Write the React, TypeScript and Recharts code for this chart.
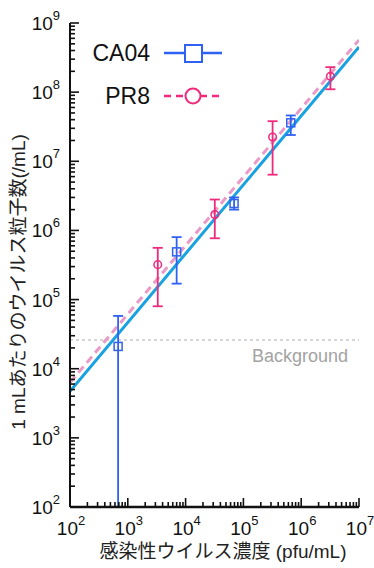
import {
  ComposedChart,
  ErrorBar,
  Label,
  Legend,
  Line,
  ReferenceLine,
  Scatter,
  XAxis,
  YAxis
} from "recharts";

const ca04X = [680, 7000, 69000, 660000];
const ca04Y = [2.1e4, 4.9e5, 2.45e6, 3.6e7];
const ca04Low = [1e2, 1.7e5, 2.0e6, 2.4e7];
const ca04High = [5.8e4, 8.0e5, 3.0e6, 4.6e7];

const pr8X = [3300, 32000, 320000, 3.2e6];
const pr8Y = [3.2e5, 1.7e6, 2.25e7, 1.7e8];
const pr8Low = [8.0e4, 7.7e5, 6.4e6, 1.1e8];
const pr8High = [5.6e5, 2.8e6, 3.8e7, 2.3e8];

// fitted lines (end points at the x-axis limits)
const fitX = [1e2, 1e7];
const ca04Fit = [4.7e3, 4.5e8];
const pr8Fit = [6.3e3, 5.7e8];

const backgroundLevel = 2.6e4;

const xMajor = [1e2, 1e3, 1e4, 1e5, 1e6, 1e7];
const yMajor = [1e2, 1e3, 1e4, 1e5, 1e6, 1e7, 1e8, 1e9];
const minorSteps = [2, 3, 4, 5, 6, 7, 8, 9];

const withMinors = (majors: number[]) => {
  const out: number[] = [];
  majors.forEach((m, i) => {
    out.push(m);
    if (i < majors.length - 1) minorSteps.forEach((s) => out.push(m * s));
  });
  return out;
};
const xTicks = withMinors(xMajor);
const yTicks = withMinors(yMajor);

const FONT = "'Liberation Sans', Arial, 'Noto Sans CJK JP', sans-serif";
const BLUE = "#2f62f2";
const CYAN = "#1aa2e0";
const PINK = "#ef2a7c";
const PINK_FIT = "#e99ac6";

const ca04Data = ca04X.map((x, i) => ({ x, y: ca04Y[i], err: [ca04Y[i] - ca04Low[i], ca04High[i] - ca04Y[i]] }));
const pr8Data = pr8X.map((x, i) => ({ x, y: pr8Y[i], err: [pr8Y[i] - pr8Low[i], pr8High[i] - pr8Y[i]] }));
const ca04FitData = fitX.map((x, i) => ({ x, y: ca04Fit[i] }));
const pr8FitData = fitX.map((x, i) => ({ x, y: pr8Fit[i] }));

const isMajor = (v: number) => Math.abs(Math.log10(v) - Math.round(Math.log10(v))) < 1e-9;
const expOf = (v: number) => Math.round(Math.log10(v));
const tickLen = (v: number) => (isMajor(v) ? 9 : 5);

function BottomTick({ x, y, payload }: any) {
  const v = payload.value;
  return (
    <g>
      <line x1={x} y1={y} x2={x} y2={y - tickLen(v)} stroke="#111" strokeWidth={1.6} />
      {isMajor(v) && (
        <text x={x + 1} y={y + 28} textAnchor="middle" fill="#111" fontFamily={FONT}>
          <tspan fontSize={19}>10</tspan>
          <tspan fontSize={13} dy={-10}>{expOf(v)}</tspan>
        </text>
      )}
    </g>
  );
}

function TopTick({ x, y, payload }: any) {
  return <line x1={x} y1={y} x2={x} y2={y + tickLen(payload.value)} stroke="#111" strokeWidth={1.6} />;
}

function LeftTick({ x, y, payload }: any) {
  const v = payload.value;
  return (
    <g>
      <line x1={x} y1={y} x2={x + tickLen(v)} y2={y} stroke="#111" strokeWidth={1.6} />
      {isMajor(v) && (
        <text x={x - 10} y={y + 7} textAnchor="end" fill="#111" fontFamily={FONT}>
          <tspan fontSize={19}>10</tspan>
          <tspan fontSize={13} dy={-10}>{expOf(v)}</tspan>
        </text>
      )}
    </g>
  );
}

function RightTick({ x, y, payload }: any) {
  return <line x1={x} y1={y} x2={x - tickLen(payload.value)} y2={y} stroke="#111" strokeWidth={1.6} />;
}

function SquareDot({ cx, cy }: any) {
  return <rect x={cx - 4} y={cy - 4} width={8} height={8} fill="none" stroke={BLUE} strokeWidth={1.5} />;
}

function CircleDot({ cx, cy }: any) {
  return <circle cx={cx} cy={cy} r={3.8} fill="none" stroke={PINK} strokeWidth={1.5} />;
}

function LegendBox() {
  return (
    <svg width={240} height={120} style={{ display: "block" }}>
      <text x={150} y={61} textAnchor="end" fontSize={23} fill="#111" fontFamily={FONT}>CA04</text>
      <line x1={164} y1={53} x2={222} y2={53} stroke={BLUE} strokeWidth={2.5} />
      <rect x={185} y={45} width={17} height={17} fill="#fff" stroke={BLUE} strokeWidth={2} />
      <text x={150} y={104} textAnchor="end" fontSize={23} fill="#111" fontFamily={FONT}>PR8</text>
      <line x1={164} y1={96} x2={222} y2={96} stroke={PINK} strokeWidth={2.5} strokeDasharray="7 5" />
      <circle cx={193} cy={96} r={7.5} fill="#fff" stroke={PINK} strokeWidth={2} />
    </svg>
  );
}

export default function App() {
  return (
    <div style={{ position: "absolute", left: 0, top: 0 }}>
      <ComposedChart width={374} height={568} margin={{ top: 23, right: 15, bottom: 0, left: 0 }}>
        <XAxis
          dataKey="x"
          type="number"
          scale="log"
          domain={[1e2, 1e7]}
          ticks={xTicks}
          interval={0}
          allowDataOverflow
          height={61}
          tickSize={0}
          tickMargin={0}
          tick={<BottomTick />}
          axisLine={{ stroke: "#111", strokeWidth: 2 }}
        >
          <Label
            content={({ viewBox }: any) => (
              <text
                x={viewBox.x + 153}
                y={viewBox.y + 51}
                textAnchor="middle"
                fontSize={19}
                fill="#222"
                fontFamily={FONT}
              >
                感染性ウイルス濃度 (pfu/mL)
              </text>
            )}
          />
        </XAxis>
        <XAxis
          xAxisId="top"
          orientation="top"
          type="number"
          scale="log"
          domain={[1e2, 1e7]}
          ticks={xTicks}
          interval={0}
          allowDataOverflow
          height={0}
          tickSize={0}
          tickMargin={0}
          tick={<TopTick />}
          axisLine={{ stroke: "#111", strokeWidth: 2 }}
        />
        <YAxis
          dataKey="y"
          type="number"
          scale="log"
          domain={[1e2, 1e9]}
          ticks={yTicks}
          interval={0}
          allowDataOverflow
          width={70}
          tickSize={0}
          tickMargin={0}
          tick={<LeftTick />}
          axisLine={{ stroke: "#111", strokeWidth: 2 }}
        >
          <Label
            content={({ viewBox }: any) => {
              const cx = viewBox.x + 18;
              const cy = viewBox.y + viewBox.height / 2 + 17;
              return (
                <text
                  x={cx}
                  y={cy}
                  transform={`rotate(-90, ${cx}, ${cy})`}
                  textAnchor="middle"
                  dominantBaseline="central"
                  fontSize={19}
                  fill="#222"
                  fontFamily={FONT}
                >
                  1 mLあたりのウイルス粒子数(/mL)
                </text>
              );
            }}
          />
        </YAxis>
        <YAxis
          yAxisId="right"
          orientation="right"
          type="number"
          scale="log"
          domain={[1e2, 1e9]}
          ticks={yTicks}
          interval={0}
          allowDataOverflow
          width={0}
          tickSize={0}
          tickMargin={0}
          tick={<RightTick />}
          axisLine={{ stroke: "#111", strokeWidth: 2 }}
        />
        <ReferenceLine y={backgroundLevel} stroke="#c8c8c8" strokeWidth={1.5} strokeDasharray="3 3">
          <Label
            content={({ viewBox }: any) => (
              <text
                x={viewBox.x + viewBox.width - 11}
                y={viewBox.y + 22}
                textAnchor="end"
                fontSize={18}
                fill="#a3a3a3"
                fontFamily={FONT}
              >
                Background
              </text>
            )}
          />
        </ReferenceLine>
        <Line
          data={pr8FitData}
          dataKey="y"
          stroke={PINK_FIT}
          strokeWidth={3}
          strokeDasharray="8 5"
          dot={false}
          isAnimationActive={false}
        />
        <Line data={ca04FitData} dataKey="y" stroke={CYAN} strokeWidth={3} dot={false} isAnimationActive={false} />
        <Scatter data={ca04Data} dataKey="y" shape={<SquareDot />} isAnimationActive={false}>
          <ErrorBar dataKey="err" direction="y" width={5} stroke={BLUE} strokeWidth={1.8} isAnimationActive={false} />
        </Scatter>
        <Scatter data={pr8Data} dataKey="y" shape={<CircleDot />} isAnimationActive={false}>
          <ErrorBar dataKey="err" direction="y" width={5} stroke={PINK} strokeWidth={1.8} isAnimationActive={false} />
        </Scatter>
        {/* redraw the bottom frame over the error bar that runs to the axis */}
        <ReferenceLine y={1e2} stroke="#111" strokeWidth={2.4} ifOverflow="visible" />
        <Legend
          layout="vertical"
          align="center"
          verticalAlign="middle"
          content={() => <LegendBox />}
          wrapperStyle={{ left: 0, top: 0, width: 240, height: 120 }}
        />
      </ComposedChart>
    </div>
  );
}
